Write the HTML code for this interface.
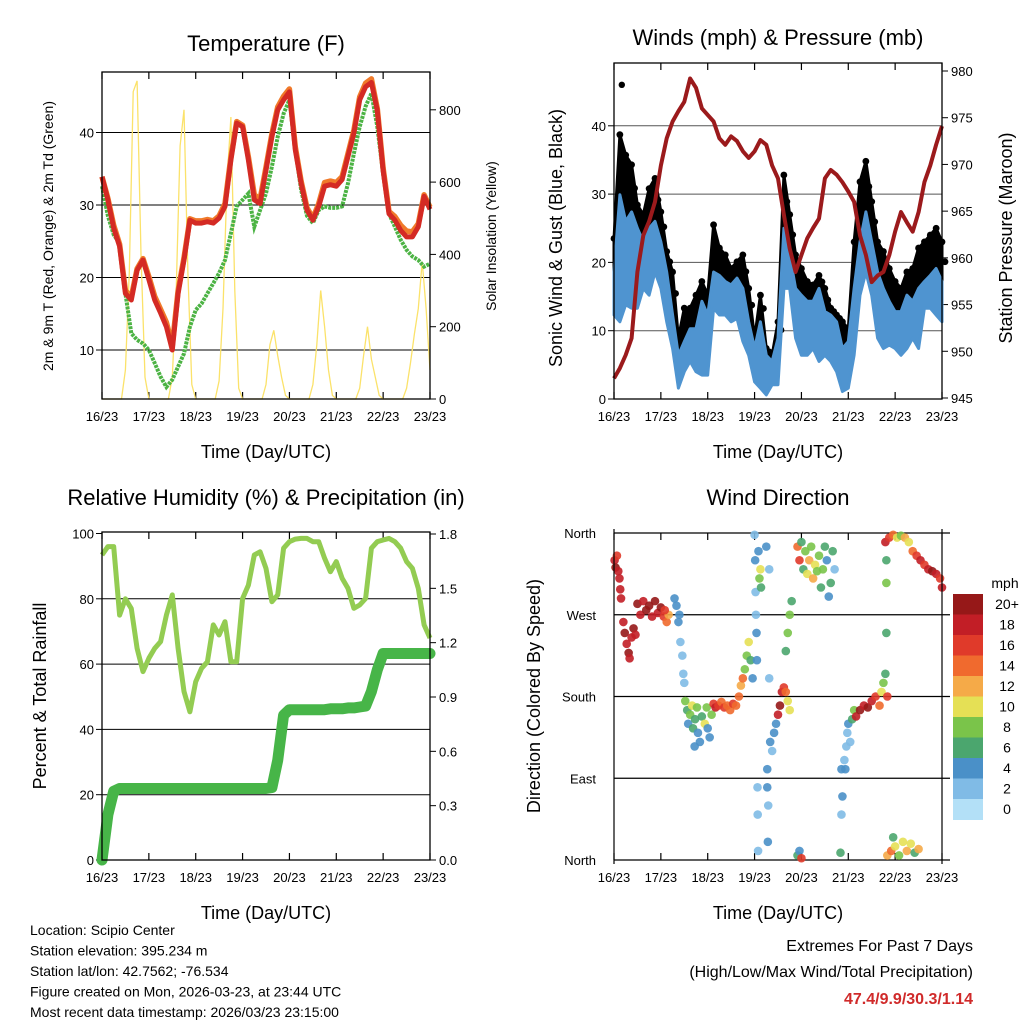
<!DOCTYPE html>
<html><head><meta charset="utf-8">
<style>
html,body{margin:0;padding:0;background:#fff;}
svg{display:block;font-family:"Liberation Sans",sans-serif;}
</style></head>
<body>
<svg id="c" width="1024" height="1024" viewBox="0 0 1024 1024"></svg>
<script>
// ---------- DATA (3-hour steps, hours 0..168) ----------
const dayLabels = ["16/23","17/23","18/23","19/23","20/23","21/23","22/23","23/23"];
const temp2m = [33.9,30.7,26.8,24.3,17.8,16.9,21,22.4,19.7,16.9,15.1,13.2,10.0,17.8,22.4,27.9,27.5,27.5,27.7,27.5,28.2,29.8,36.2,41.3,40.8,36.2,30.7,30.2,34.8,39.4,43.1,44.5,45.6,37.6,33,29.3,27.9,29.8,32.6,32.8,32.6,33.5,36.7,39.9,44.5,46.3,46.9,43,34.8,28.8,27.9,26.5,25.6,25.6,27,31.2,29.4];
const temp9m = [33.9,30.9,27.2,24.6,18.2,17.3,21.2,22.6,20.1,17.4,15.6,13.8,10.6,18.2,22.7,28.1,27.8,27.8,28.0,27.8,28.5,30.2,36.6,41.5,41.0,36.6,31.4,30.8,35.2,39.8,43.5,45.0,46.0,38.0,33.3,29.6,28.2,30.2,33.1,33.3,33.1,33.9,37.1,40.3,44.9,46.8,47.4,43.3,35.1,29.1,28.4,27.2,26.4,26.3,27.4,31.4,29.7];
const dew2m = [32.6,28.5,25.9,24.7,17.8,12.3,11.4,10.9,10,8.2,6.3,4.9,5.9,7.7,9.5,13.2,15.5,16.4,17.8,19.2,20.6,22.4,26.1,29.8,30.7,31.6,27,29.3,31.6,35.3,39.4,42.6,44.5,37.6,32.1,28.5,27.5,29.3,29.8,29.6,29.6,29.8,33,37.1,40.8,43.6,45.4,40.8,34.3,28.8,27,25.2,23.8,22.9,22.4,21.5,21.9];
// solar insolation, 2-hour steps
const solar = [0,0,0,0,0,0,80,350,850,880,400,60,
 0,0,0,0,0,0,60,300,700,800,350,40,
 0,0,0,0,0,0,50,250,600,780,300,30,
 0,0,0,0,0,0,40,150,190,120,60,10,
 0,0,0,0,0,0,40,150,300,200,80,10,
 0,0,0,0,0,0,30,120,200,110,60,10,
 0,0,0,0,0,0,30,100,180,250,380,250,80];
const pressure = [947.1,948.2,949.6,951.4,958.5,962.4,963.9,966,969.9,972.8,974.6,975.7,976.7,979.2,978.2,976,975.3,974.6,972.8,972.1,973,972.5,971.4,970.7,971.4,972.6,972.1,969.9,968.5,964.6,961,958.5,960.3,962.1,963.2,964.2,968.5,969.4,968.9,968.1,967.1,966,962.4,960.3,957.4,958.1,958.5,960.3,962.8,964.9,963.8,962.8,964.9,968.1,969.9,972.1,974.1];
const windHi = [18.6,29.9,26,27.4,25,23,25,26,23,18.6,12.3,6.4,8.4,10.3,10.3,14.3,12.3,18.6,18.1,17.2,16.7,17.7,16.2,11.3,7.4,11.3,6.4,5.5,8.9,25,21.1,16.2,15.2,14.3,14.3,16.2,12.8,12.3,11.3,7.4,8.4,16.2,23,27.4,23,18.6,16.2,14.3,12.8,12.8,15.2,14.3,16.2,17.2,18.1,19.1,17.2];
const windLo = [12.3,11.3,13.8,13.3,13.3,16.2,15.2,18.6,16.2,11.3,7.4,1.6,4,5.5,4,3.5,3.5,13.3,12.3,12.3,11.3,11.8,8.4,6.4,2.5,1.6,0.6,2.1,2.1,16.2,16.2,8.9,6.4,6.4,7.4,5.5,6.4,5.5,4,1.1,1.6,6.4,15.2,18.6,15.2,8.9,7.4,7.9,7.4,6.4,7.4,8.9,7.4,13.3,13.3,12.3,11.3];
const gust = [23.5,38.7,35.7,34.3,28.4,27,30.8,32.3,27.4,21.6,18.6,8.9,13.3,13.3,15.2,17.2,15.2,25.5,22.1,21.1,19.1,20.1,21.1,16.2,8.9,15.2,7.4,6.4,11.3,32.8,27,21.1,19.1,17.2,16.7,18.1,16.2,13.3,12.3,11.3,10.3,23,31.8,34.8,28.9,23,21.6,19.1,17.2,16.2,18.6,19.1,22.1,23,24,25,23];
const rh = [93.4,96,96,75,80,77,64.8,57.7,61.8,64.8,66.9,75,81.2,64.8,51.6,45.4,54.6,58.7,60.7,72,68.9,73,60.7,60.7,80.1,84.2,93.4,94.4,89.3,79.1,81.2,95.5,97.5,98.3,98.5,98.5,97.5,97.5,92.4,88.3,91.4,86.3,83.2,77.1,78.1,80.1,95.5,97.5,98,98.5,97.5,95.5,91.4,89.3,83.2,72,68];
const precip = [0,0.25,0.38,0.395,0.395,0.395,0.395,0.395,0.395,0.395,0.395,0.395,0.395,0.395,0.395,0.395,0.395,0.395,0.395,0.395,0.395,0.395,0.395,0.395,0.395,0.395,0.395,0.395,0.395,0.40,0.55,0.8,0.83,0.83,0.83,0.83,0.83,0.83,0.83,0.835,0.835,0.835,0.84,0.84,0.845,0.85,0.93,1.05,1.14,1.14,1.14,1.14,1.14,1.14,1.14,1.14,1.14];
// wind direction points
const dirHours = [0.3,0.8,1.5,2.2,2.8,3.2,3.6,4.8,5.5,6.5,7.5,8,9,10,11,12,13.5,15,16.5,18,19.5,21,22.5,24,25.5,27,28,26,31,32,33.5,33,34,35,35.5,36,36.5,37.5,38,39,40,40.5,41.5,42.5,43,44,45,46.5,47.5,48,49,50,41.3,51,52,53.5,55,56.5,58,59.5,61,62.5,64,65,66,67,68,69,70,71,72,72.3,72.5,72.7,73,73.2,73.5,73.6,73.8,74,74.5,75,75.3,78,78.5,78.5,79,78.8,79.5,79.5,80,81,82,83,84,85,86,87,88,89,90,88,89,90,91,94,95,96,97,98,99,100,101,102,103,104,105,106,107,108,109,110,111,112,113,94,95,96,116,116.5,117,116.5,118,118.5,119,119.5,120,121,122,123,124,126,128,130,132,134,136,137,138,139,140,139.5,139.5,139.5,139,141,143,145,147,149,151,153,155,157,159,161,163,165,167,168,140,142,144,146,148,150,152,154,156,143];
const dirDeg = [330,322,335,318,310,298,288,262,250,238,228,222,245,255,248,282,270,285,275,280,268,285,272,278,268,262,270,275,288,280,270,262,240,225,205,195,175,165,150,160,170,145,155,168,140,130,158,150,168,145,135,160,125,172,168,170,174,168,170,165,172,170,180,192,200,210,225,240,220,200,358,330,295,270,250,220,80,50,10,340,310,320,300,345,100,80,60,20,200,320,130,120,140,150,160,170,185,190,185,175,165,230,250,270,285,345,330,350,320,340,315,330,345,310,325,318,335,300,320,345,330,290,305,340,320,5,10,2,8,100,70,50,110,100,125,140,150,130,155,165,158,165,170,168,175,180,170,185,195,205,180,330,305,250,350,355,358,355,357,355,350,340,335,330,325,320,318,315,310,300,5,10,15,5,20,10,18,8,12,25];
const dirSpeed = [18,20,16,18,18,18,18,18,20,18,20,18,18,20,18,20,18,18,20,20,18,20,18,20,16,14,12,16,4,4,4,4,2,2,2,3,8,6,4,8,10,6,6,8,4,4,6,10,8,4,4,8,4,16,18,16,14,16,14,14,16,14,14,12,14,8,8,10,6,4,2,4,2,2,4,4,2,2,2,4,8,10,6,4,4,4,2,4,2,2,4,2,4,4,18,20,18,16,14,10,10,6,8,8,6,14,16,6,6,8,10,12,8,12,10,8,8,6,8,6,4,4,6,6,2,6,4,16,6,4,4,2,2,4,2,2,4,2,6,8,18,20,18,20,18,16,14,10,8,6,16,6,8,6,18,16,14,10,8,12,10,14,16,18,16,18,20,18,16,18,12,14,10,8,10,12,10,6,12,6];
const speedColors = ["#b3e0f7","#80bbe6","#4a90c8","#4ba66e","#7ac44a","#e5e055","#f5aa48","#f06a2e","#e03a2a","#c21e26","#961818"];
const speedLabels = ["0","2","4","6","8","10","12","14","16","18","20+"];

// ---------- HELPERS ----------
const NS="http://www.w3.org/2000/svg";
const svg=document.getElementById('c');
function mk(tag,attrs,name,parent){
  const el=document.createElementNS(NS,tag);
  for(const k in attrs) el.setAttribute(k,attrs[k]);
  
  
  (parent||svg).appendChild(el);
  return el;
}
function txt(x,y,s,size,anchor,name,extra){
  const a=Object.assign({x:x,y:y,'font-size':size,'text-anchor':anchor||'middle',fill:'#000'},extra||{});
  const t=mk('text',a,name);
  t.textContent=s;
  return t;
}
function lin(a,b,c,d){return v=>c+(v-a)*(d-c)/(b-a);}
function pts(hours,vals,X,Y){return vals.map((v,i)=>X(hours[i]).toFixed(1)+','+Y(v).toFixed(1)).join(' ');}
const h3=temp2m.map((_,i)=>i*3);
const h2=solar.map((_,i)=>i*2);

function frame(L,R,T,B,name){
  const X=lin(0,168,L,R);
  for(let d=0;d<=7;d++){
    const x=X(d*24);
    mk('line',{x1:x,y1:T,x2:x,y2:T+7,stroke:'#000','stroke-width':1.2},name+'-top-tick');
    mk('line',{x1:x,y1:B,x2:x,y2:B-7,stroke:'#000','stroke-width':1.2},name+'-x-tick');
    txt(x,B+22,dayLabels[d],13,'middle',name+'-x-label');
  }
  return X;
}
function border(L,R,T,B,name){
  mk('rect',{x:L,y:T,width:R-L,height:B-T,fill:'none',stroke:'#000','stroke-width':1.3},name+'-border');
}
function rotText(x,y,s,size,name){
  txt(x,y,s,size,'middle',name,{transform:'rotate(-90 '+x+' '+y+')'});
}

// ---------- PANEL 1: TEMPERATURE ----------
(function(){
  const L=102,R=430,T=72,B=399;
  const X=lin(0,168,L,R), Y=lin(0,10,422.5,350), Ys=lin(0,200,399,326.7);
  txt(266,51,'Temperature (F)',22,'middle','temperature-title');
  [10,20,30,40].forEach(v=>{
    mk('line',{x1:L,y1:Y(v),x2:R,y2:Y(v),stroke:'#000','stroke-width':1},'temp-gridline');
    mk('line',{x1:L-6,y1:Y(v),x2:L,y2:Y(v),stroke:'#000'},'temp-y-tick');
    txt(L-8,Y(v)+5,String(v),13,'end','temp-y-label');
  });
  [0,200,400,600,800].forEach(v=>{
    mk('line',{x1:R,y1:Ys(v),x2:R+6,y2:Ys(v),stroke:'#000'},'solar-y-tick');
    txt(R+9,Ys(v)+5,String(v),13,'start','solar-y-label');
  });
  frame(L,R,T,B,'temp');
  mk('polyline',{points:pts(h2,solar,X,Ys),fill:'none',stroke:'#fbe26a','stroke-width':1.3},'solar-insolation-line');
  mk('polyline',{points:pts(h3,dew2m,X,Y),fill:'none',stroke:'#4cb344','stroke-width':4,'stroke-dasharray':'3 1'},'dewpoint-2m-line');
  mk('polyline',{points:pts(h3,temp9m,X,Y),fill:'none',stroke:'#f07a2a','stroke-width':5.5,'stroke-linejoin':'round'},'temp-9m-line');
  mk('polyline',{points:pts(h3,temp2m,X,Y),fill:'none',stroke:'#d42a24','stroke-width':5,'stroke-linejoin':'round'},'temp-2m-line');
  border(L,R,T,B,'temp');
  txt(266,458,'Time (Day/UTC)',18,'middle','temp-x-title');
  rotText(53,236,'2m & 9m T (Red, Orange) & 2m Td (Green)',14,'temp-y-title');
  rotText(496,236,'Solar Insolation (Yellow)',14,'solar-y-title');
})();

// ---------- PANEL 2: WINDS & PRESSURE ----------
(function(){
  const L=614,R=942,T=63,B=399;
  const X=lin(0,168,L,R), Y=lin(0,10,399,330.7), Yp=lin(945,980,398,71);
  txt(778,45,'Winds (mph) & Pressure (mb)',22,'middle','winds-title');
  [0,10,20,30,40].forEach(v=>{
    if(v>0) mk('line',{x1:L,y1:Y(v),x2:R,y2:Y(v),stroke:'#555','stroke-width':1},'wind-gridline');
    mk('line',{x1:L-6,y1:Y(v),x2:L,y2:Y(v),stroke:'#000'},'wind-y-tick');
    txt(L-8,Y(v)+5,String(v),13,'end','wind-y-label');
  });
  [945,950,955,960,965,970,975,980].forEach(v=>{
    mk('line',{x1:R,y1:Yp(v),x2:R+6,y2:Yp(v),stroke:'#000'},'pressure-y-tick');
    txt(R+9,Yp(v)+5,String(v),13,'start','pressure-y-label');
  });
  frame(L,R,T,B,'wind');
  const gpoly=pts(h3,gust,X,Y)+' '+pts(h3.slice().reverse(),windHi.slice().reverse(),X,Y);
  mk('polygon',{points:gpoly,fill:'#000',stroke:'#000','stroke-width':3,'stroke-linejoin':'round'},'gust-band');
  gust.forEach((v,i)=>{
    mk('circle',{cx:X(h3[i]),cy:Y(v),r:3.4,fill:'#000'},'gust-point');
    mk('circle',{cx:X(h3[i])+3,cy:Y((v+windHi[i])/2),r:3.4,fill:'#000'},'gust-point');
  });
  mk('circle',{cx:X(4),cy:Y(46),r:3.2,fill:'#000'},'gust-point');
  const bpoly=pts(h3,windHi,X,Y)+' '+pts(h3.slice().reverse(),windLo.slice().reverse(),X,Y);
  mk('polygon',{points:bpoly,fill:'#4f94d0',stroke:'#4f94d0','stroke-width':3,'stroke-linejoin':'round'},'sustained-wind-band');
  mk('polyline',{points:pts(h3,pressure,X,Yp),fill:'none',stroke:'#9b1a1c','stroke-width':4,'stroke-linejoin':'round'},'pressure-line');
  border(L,R,T,B,'wind');
  txt(778,458,'Time (Day/UTC)',18,'middle','wind-x-title');
  rotText(562,238,'Sonic Wind & Gust (Blue, Black)',18,'wind-y-title');
  rotText(1012,238,'Station Pressure (Maroon)',18,'pressure-y-title');
})();

// ---------- PANEL 3: RH & PRECIP ----------
(function(){
  const L=102,R=430,T=532,B=860;
  const X=lin(0,168,L,R), Y=lin(0,100,860,533.5), Yr=lin(0,1.8,860,534);
  txt(266,505,'Relative Humidity (%) & Precipitation (in)',22,'middle','rh-title');
  [0,20,40,60,80,100].forEach(v=>{
    if(v>0&&v<100) mk('line',{x1:L,y1:Y(v),x2:R,y2:Y(v),stroke:'#000','stroke-width':1},'rh-gridline');
    mk('line',{x1:L-6,y1:Y(v),x2:L,y2:Y(v),stroke:'#000'},'rh-y-tick');
    txt(L-8,Y(v)+5,String(v),13,'end','rh-y-label');
  });
  [0,0.3,0.6,0.9,1.2,1.5,1.8].forEach(v=>{
    mk('line',{x1:R,y1:Yr(v),x2:R+6,y2:Yr(v),stroke:'#000'},'precip-y-tick');
    txt(R+9,Yr(v)+5,v.toFixed(1),13,'start','precip-y-label');
  });
  frame(L,R,T,B,'rh');
  mk('polyline',{points:pts(h3,rh,X,Y),fill:'none',stroke:'#93cc52','stroke-width':5,'stroke-linejoin':'round'},'rh-line');
  mk('polyline',{points:pts(h3,precip,X,Yr),fill:'none',stroke:'#47b548','stroke-width':11,'stroke-linejoin':'round','stroke-linecap':'round'},'precip-line');
  border(L,R,T,B,'rh');
  txt(266,919,'Time (Day/UTC)',18,'middle','rh-x-title');
  rotText(46,696,'Percent & Total Rainfall',18,'rh-y-title');
})();

// ---------- PANEL 4: WIND DIRECTION ----------
(function(){
  const L=614,R=942,T=533,B=860;
  const X=lin(0,168,L,R), Y=lin(0,360,860,533);
  txt(778,505,'Wind Direction',22,'middle','wind-direction-title');
  const dn=['North','East','South','West','North'];
  [0,90,180,270,360].forEach((v,i)=>{
    mk('line',{x1:L,y1:Y(v),x2:R+8,y2:Y(v),stroke:'#000','stroke-width':1.2},'direction-gridline');
    txt(L-18,Y(v)+5,dn[i],13,'end','direction-y-label');
  });
  frame(L,R,T,B,'dir');
  dirHours.forEach((h,i)=>{
    const c=speedColors[Math.min(10,Math.floor(dirSpeed[i]/2))];
    mk('circle',{cx:X(h),cy:Y(dirDeg[i]),r:4.3,fill:c,'fill-opacity':0.9},'direction-point');
  });
  mk('line',{x1:L,y1:T-4,x2:L,y2:B+4,stroke:'#000','stroke-width':1.2},'dir-left-axis');
  mk('line',{x1:R,y1:T-4,x2:R,y2:B+4,stroke:'#000','stroke-width':1.2},'dir-right-axis');
  txt(778,919,'Time (Day/UTC)',18,'middle','dir-x-title');
  rotText(540,696,'Direction (Colored By Speed)',18,'dir-y-title');
  txt(1005,588,'mph',14,'middle','colorbar-title');
  const cbTop=594, bh=20.5;
  for(let k=10;k>=0;k--){
    const y=cbTop+(10-k)*bh;
    mk('rect',{x:953,y:y,width:30,height:bh+0.5,fill:speedColors[k]},'colorbar-box');
    txt(1007,y+15,speedLabels[k],14,'middle','colorbar-label');
  }
})();

// ---------- FOOTER ----------
['Location: Scipio Center','Station elevation: 395.234 m','Station lat/lon: 42.7562; -76.534','Figure created on Mon, 2026-03-23, at 23:44 UTC','Most recent data timestamp: 2026/03/23 23:15:00'].forEach((s,i)=>{
  txt(30,935+i*20.5,s,14,'start','footer-info-line');
});
txt(973,951,'Extremes For Past 7 Days',16,'end','extremes-title');
txt(973,977,'(High/Low/Max Wind/Total Precipitation)',16,'end','extremes-subtitle');
txt(973,1004,'47.4/9.9/30.3/1.14',16,'end','extremes-values',{fill:'#d02a2a','font-weight':'bold'});
</script>
</body></html>
